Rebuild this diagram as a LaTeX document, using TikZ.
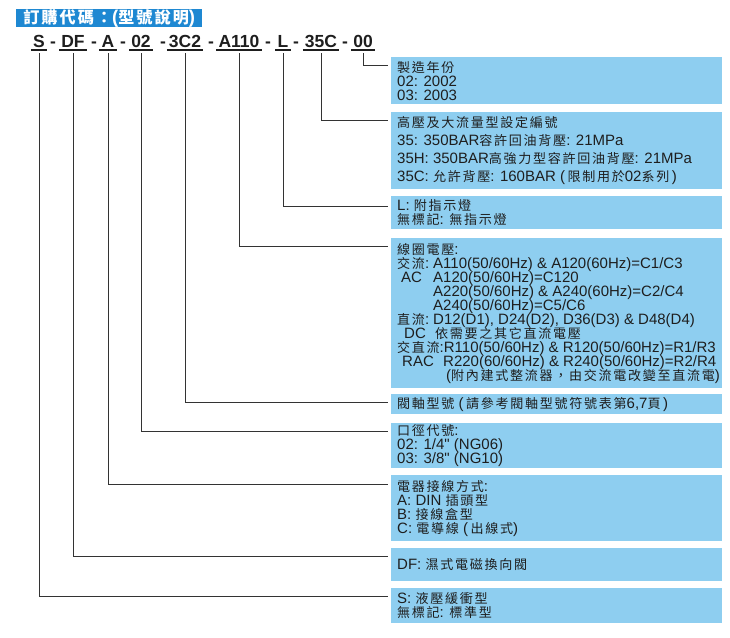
\documentclass[tikz,border=0pt]{standalone}
\usepackage{fontspec}
\setmainfont{Liberation Sans}[Ligatures=TeXOff]
\newfontfamily\cjkfont{Noto Sans CJK TC}[Scale=0.87,LetterSpace=13]
\newcommand\zh[1]{{\cjkfont #1}}
\definecolor{hdrblue}{HTML}{1E88D2}
\definecolor{boxblue}{HTML}{8ECEF0}
\definecolor{ink}{HTML}{1E1E1E}
\definecolor{linec}{HTML}{333333}
\begin{document}
\begin{tikzpicture}[x=1pt,y=-1pt,
  box/.style={fill=boxblue, draw=none, minimum width=331pt, anchor=north west, inner sep=0pt},
  txt/.style={anchor=west, align=left, inner sep=0pt, text=ink, font={\fontsize{15pt}{14pt}\selectfont\lineskiplimit=-20pt}},
  code/.style={anchor=base, inner sep=0pt, text=ink, font={\fontsize{17.5pt}{20pt}\selectfont\bfseries}, text depth=6pt},
  dashn/.style={anchor=base, inner sep=0pt, text=ink, font={\fontsize{17.5pt}{20pt}\selectfont\bfseries}},
  hdr/.style={fill=hdrblue, text=white, anchor=north west, minimum width=186pt, minimum height=18pt, inner sep=0pt, font={\fontsize{18.5pt}{18pt}\selectfont\bfseries}},
  conn/.style={draw=linec, line width=0.9pt},
  uline/.style={draw=ink, line width=1.8pt}]
\useasboundingbox (0,0) rectangle (730,637);

% header
\node[hdr] (h) at (16,9) {\zh{\bfseries 訂購代碼：}(\zh{\bfseries 型號說明})};

% code segments
\node[code] (s1) at (39,47) {S};
\node[code] (s2) at (73,47) {DF};
\node[code] (s3) at (108,47) {A};
\node[code] (s4) at (141,47) {02};
\node[code] (s5) at (185,47) {3C2};
\node[code] (s6) at (239,47) {A110};
\node[code] (s7) at (283,47) {L};
\node[code] (s8) at (321,47) {35C};
\node[code] (s9) at (363,47) {00};
\node[dashn] (d1) at (53,47) {-};
\node[dashn] (d2) at (94,47) {-};
\node[dashn] (d3) at (123,47) {-};
\node[dashn] (d4) at (163,47) {-};
\node[dashn] (d5) at (211,47) {-};
\node[dashn] (d6) at (268,47) {-};
\node[dashn] (d7) at (296,47) {-};
\node[dashn] (d8) at (345,47) {-};
\foreach \s in {s1,s2,s3,s4,s5,s6,s7,s8,s9}{
  \draw[uline] ([xshift=-2pt,yshift=-3pt]\s.base west) -- ([xshift=2pt,yshift=-3pt]\s.base east);
}

% boxes
\node[box, minimum height=47pt]  (b1) at (391,57) {};
\node[box, minimum height=77pt]  (b2) at (391,112) {};
\node[box, minimum height=33pt]  (b3) at (391,196) {};
\node[box, minimum height=150pt] (b4) at (391,238) {};
\node[box, minimum height=20pt]  (b5) at (391,394) {};
\node[box, minimum height=45pt]  (b6) at (391,423) {};
\node[box, minimum height=66pt]  (b7) at (391,475) {};
\node[box, minimum height=33pt]  (b8) at (391,548) {};
\node[box, minimum height=35pt]  (b9) at (391,588) {};

% texts
\node[txt] (t1) at ([xshift=6pt]b1.west) {\zh{製造年份}\\02: 2002\\03: 2003};
\node[txt, font={\fontsize{15pt}{18pt}\selectfont\lineskiplimit=-20pt}] (t2) at ([xshift=6pt]b2.west)
  {\zh{高壓及大流量型設定編號}\\35: 350BAR\zh{容許回油背壓}: 21MPa\\35H: 350BAR\zh{高強力型容許回油背壓}: 21MPa\\35C: \zh{允許背壓}: 160BAR (\,\zh{限制用於}02\zh{系列}\,)};
\node[txt] (t3) at ([xshift=6pt]b3.west) {L: \zh{附指示燈}\\\zh{無標記}: \zh{無指示燈}};
\node[txt] (t4) at ([xshift=6pt]b4.west) {\zh{線圈電壓}:\\
\makebox[36pt][l]{\zh{交流}:}A110(50/60Hz) \& A120(60Hz)=C1/C3\\
\makebox[36pt][l]{\hspace{4pt}AC}A120(50/60Hz)=C120\\
\hspace*{36pt}A220(50/60Hz) \& A240(60Hz)=C2/C4\\
\hspace*{36pt}A240(50/60Hz)=C5/C6\\
\makebox[36pt][l]{\zh{直流}:}D12(D1), D24(D2), D36(D3) \& D48(D4)\\
\makebox[38pt][l]{\hspace{7pt}DC}\zh{依需要之其它直流電壓}\\
\zh{交直流}:R110(50/60Hz) \& R120(50/60Hz)=R1/R3\\
\makebox[46pt][l]{\hspace{5pt}RAC}R220(60/60Hz) \& R240(50/60Hz)=R2/R4\\
\hspace*{49pt}(\zh{附內建式整流器，由交流電改變至直流電})};
\node[txt] (t5) at ([xshift=6pt]b5.west) {\zh{閥軸型號} (\,\zh{請參考閥軸型號符號表第}6,7\zh{頁}\,)};
\node[txt] (t6) at ([xshift=6pt]b6.west) {\zh{口徑代號}:\\02: 1/4" (NG06)\\03: 3/8" (NG10)};
\node[txt] (t7) at ([xshift=6pt]b7.west) {\zh{電器接線方式}:\\A: DIN \zh{插頭型}\\B: \zh{接線盒型}\\C: \zh{電導線} (\,\zh{出線式})};
\node[txt] (t8) at ([xshift=6pt]b8.west) {DF: \zh{濕式電磁換向閥}};
\node[txt] (t9) at ([xshift=6pt]b9.west) {S: \zh{液壓緩衝型}\\\zh{無標記}: \zh{標準型}};

% connector end points
\coordinate (e9) at (388,65);
\coordinate (e8) at (388,120);
\coordinate (e7) at (388,206);
\coordinate (e6) at (388,246);
\coordinate (e5) at (388,402);
\coordinate (e4) at (388,431);
\coordinate (e3) at (388,484);
\coordinate (e2) at (388,556);
\coordinate (e1) at (388,596);
\foreach \i in {1,...,9}{
  \draw[conn] (s\i.south) |- (e\i);
}
\end{tikzpicture}
\end{document}
